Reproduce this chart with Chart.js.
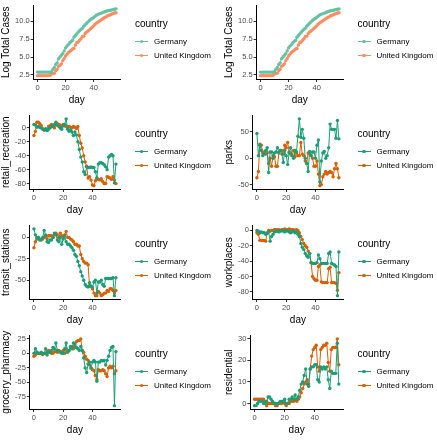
<!DOCTYPE html>
<html>
<head>
<meta charset="utf-8">
<script src="https://cdn.jsdelivr.net/npm/chart.js@4/dist/chart.umd.min.js"></script>
<style>
  html, body { margin: 0; padding: 0; background: #fff; }
  #grid { position: relative; width: 437px; height: 440px; overflow: hidden; }
  .panel { position: absolute; width: 218px; height: 110px; }
  .legend { position: absolute; left: 135px; top: 0; font-family: 'Liberation Sans', Arial, sans-serif; color: #000; }
  .legend .ttl { position: absolute; left: 0; top: 18px; font-size: 10px; line-height: 12px; white-space: nowrap; }
  .legend .item { position: absolute; left: 0; height: 10px; white-space: nowrap; }
  .legend .key { position: absolute; left: 0; top: 4.5px; width: 13px; height: 1px; }
  .legend .dot { position: absolute; left: 4.7px; top: 3.2px; width: 3.6px; height: 3.6px; border-radius: 50%; }
  .legend .lbl { position: absolute; left: 19px; top: 0; font-size: 8px; line-height: 10px; }
</style>
</head>
<body>
<div id="grid"></div>
<script>
/* ── Data ─────────────────────────────────────────────── */
const countries = ['Germany', 'United Kingdom'];
const days = [
  0, 1, 2, 3, 4, 5, 6, 7, 8, 9,
  10, 11, 12, 13, 14, 15, 16, 17, 18, 19,
  20, 21, 22, 23, 24, 25, 26, 27, 28, 29,
  30, 31, 32, 33, 34, 35, 36, 37, 38, 39,
  40, 41, 42, 43, 44, 45, 46, 47, 48, 49,
  50, 51, 52, 53, 54, 55, 56,
];
const xTicks = [0, 20, 40];

const logCasesDE = [
  2.9, 2.9, 2.9, 2.9, 2.9, 2.9, 2.9, 2.9, 2.9, 2.9,
  2.95, 3.3, 3.55, 3.97, 4.19, 4.76, 5.01, 5.24, 5.48, 5.86,
  6.28, 6.53, 6.74, 7.01, 7.17, 7.36, 7.77, 8.03, 8.24, 8.48,
  8.7, 8.88, 9.01, 9.31, 9.54, 9.72, 9.92, 10.12, 10.28, 10.4,
  10.53, 10.69, 10.84, 10.96, 11.04, 11.11, 11.18, 11.26, 11.35, 11.42,
  11.47, 11.51, 11.55, 11.59, 11.64, 11.68, 11.74,
];
const logCasesUK = [
  2.4, 2.4, 2.4, 2.4, 2.4, 2.4, 2.4, 2.4, 2.4, 2.45,
  2.7, 2.7, 2.75, 3.1, 3.3, 3.7, 3.85, 4.05, 4.5, 4.8,
  5.15, 5.4, 5.65, 5.8, 5.95, 6.12, 6.2, 6.68, 7.04, 7.1,
  7.34, 7.58, 7.87, 7.92, 8.29, 8.52, 8.65, 8.8, 9.0, 9.16,
  9.36, 9.58, 9.75, 9.88, 10.0, 10.13, 10.29, 10.43, 10.55, 10.64,
  10.77, 10.85, 10.92, 11.01, 11.08, 11.15, 11.2,
];
const logCasesTicks = [2.5, 5.0, 7.5, 10.0];

const retailDE = [
  5, 4, 1, 2, 1, 0, -1, -3, -2, -4,
  -2, 0, 2, 3, 5, 8, 4, 2, 0, -2,
  3, 5, 13, -2, -5, -3, -6, -11, -6, -10,
  -20, -31, -42, -49, -63, -67, -56, -57, -57, -56,
  -57, -57, -63, -72, -52, -50, -50, -51, -53, -56,
  -60, -42, -40, -38, -40, -79, -52,
];
const retailUK = [
  -11, -5, 8, 8, 6, 3, -2, -3, -1, -3,
  2, 3, 5, 2, 0, 4, 6, 5, 4, 2,
  5, 3, 2, 1, 2, 1, 0, 2, 1, -1,
  2, -11, -22, -29, -40, -49, -55, -72, -70, -75,
  -82, -83, -76, -72, -74, -75, -73, -77, -80, -80,
  -70, -71, -72, -74, -70, -75, -80,
];
const retailTicks = [-80, -60, -40, -20, 0];

const parksDE = [
  47, 5, 25, 15, 5, 8, 15, 20, -27, 12,
  12, 0, 10, 12, 20, 12, 15, 8, -8, 15,
  5, -12, 10, 20, 5, 0, 15, 12, 42, 75,
  40, 55, 38, 0, -10, -25, 13, 5, 12, 12,
  0, 25, 35, -45, -5, 10, 13, 0, 5, 20,
  65, 55, 55, 55, 38, 72, 37,
];
const parksUK = [
  -37, -25, 27, 25, 10, 12, 8, 10, -10, 0,
  -15, 5, 3, -15, -15, 10, 15, 15, 8, 25,
  20, 30, 12, 8, 5, 15, 3, 10, 5, 5,
  30, 8, 5, -5, -10, 10, 8, 5, 0, -15,
  -15, -5, -30, -52, -50, -35, -30, -25, -30, -27,
  -25, -27, -35, -20, -10, -20, -37,
];
const parksTicks = [-50, 0, 50];

const transitDE = [
  10, 3, -2, 0, -3, -2, 0, 8, 3, -5,
  -6, -3, -3, 0, 5, 3, -3, -5, 0, -8,
  -2, 2, -5, -8, -8, -10, -12, -15, -20, -22,
  -28, -33, -40, -45, -50, -55, -57, -58, -53, -57,
  -58, -52, -50, -65, -52, -52, -50, -55, -57, -48,
  -48, -48, -48, -48, -47, -68, -47,
];
const transitUK = [
  -12, -5, 0, 0, -2, -3, -2, 0, 2, -2,
  2, 2, 2, 0, 3, 5, 3, 0, 5, 2,
  0, 3, 7, 0, 0, -2, -3, -5, -8, -8,
  -10, -10, -20, -25, -28, -30, -30, -32, -57, -57,
  -60, -65, -68, -68, -63, -65, -68, -67, -65, -65,
  -62, -63, -60, -60, -62, -65, -62,
];
const transitTicks = [-50, -25, 0];

const workDE = [
  0, -1, -3, -2, -3, -3, -5, -4, -2, -14,
  -8, -5, -2, -1, -1, -2, -1, 0, -1, -2,
  -1, 0, -2, -3, -2, -1, -3, -2, -5, -8,
  -17, -22, -25, -30, -33, -35, -30, -42, -43, -43,
  -43, -42, -32, -37, -43, -43, -43, -43, -43, -30,
  -28, -43, -44, -45, -47, -85, -28,
];
const workUK = [
  -3, -5, -13, -13, -13, -13, -14, -3, 0, -1,
  0, 0, 1, 1, 1, 1, 0, 1, 1, 2,
  1, 1, 2, 1, 1, 1, 0, 1, 0, -3,
  -8, -12, -17, -20, -22, -27, -30, -42, -60, -63,
  -65, -65, -47, -45, -67, -68, -68, -68, -68, -50,
  -48, -68, -68, -68, -69, -78, -55,
];
const workTicks = [-80, -60, -40, -20, 0];

const groceryDE = [
  0, 8, 2, 0, 0, 2, 0, 0, 8, -3,
  2, 2, 5, 10, 8, 18, 5, 3, 2, 0,
  0, 8, 18, 2, 5, 12, 8, 18, 15, 10,
  8, 5, 12, 5, -8, -25, -33, -18, -15, -25,
  -15, -12, -15, -48, -15, -15, -12, -13, -12, -20,
  -12, -5, 5, 10, 12, -90, 3,
];
const groceryUK = [
  -5, -3, 2, 0, 0, 0, -2, 0, 0, 3,
  5, 2, 0, 0, 3, 3, 2, 5, 3, 2,
  5, 0, 8, 3, 5, 10, 12, 8, 12, 20,
  22, 22, 25, 5, 2, -5, -10, -12, -20, -25,
  -28, -30, -38, -45, -28, -30, -30, -28, -30, -35,
  -40, -25, -22, -25, -22, -35, -30,
];
const groceryTicks = [-75, -50, -25, 0, 25];

const residentialDE = [
  -1, -1, 0, 1, 1, 1, 0, 0, 1, 3,
  3, 2, 1, 0, 0, 0, 0, 1, 1, 1,
  2, 0, 0, 2, 2, 3, 2, 4, 2, 3,
  6, 9, 10, 13, 16, 9, 8, 16, 17, 17,
  18, 18, 11, 10, 17, 16, 17, 16, 17, 11,
  7, 15, 14, 14, 14, 28, 9,
];
const residentialUK = [
  2, 2, 2, 2, 2, 2, 2, 1, -1, 0,
  0, 0, 0, 0, -1, -1, 0, 0, 0, 1,
  0, -1, 0, 0, 1, 1, 1, 2, 1, 2,
  3, 5, 7, 9, 10, 11, 9, 16, 22, 25,
  26, 27, 17, 15, 25, 26, 27, 27, 28, 19,
  15, 25, 26, 26, 26, 30, 18,
];
const residentialTicks = [0, 10, 20, 30];

/* ── Styling ──────────────────────────────────────────── */
const SET2 = ['#66C2A5', '#FC8D62'];
const DARK2 = ['#1B9E77', '#D95F02'];
const FONT = "'Liberation Sans', Arial, sans-serif";
const TICK_FONT = { family: FONT, size: 7.5 };
const TITLE_FONT = { family: FONT, size: 10 };

const panels = [
  { title: 'Log Total Cases', de: logCasesDE, uk: logCasesUK, ticks: logCasesTicks, colors: SET2, digits: 1 },
  { title: 'Log Total Cases', de: logCasesDE, uk: logCasesUK, ticks: logCasesTicks, colors: SET2, digits: 1 },
  { title: 'retail_recreation', de: retailDE, uk: retailUK, ticks: retailTicks, colors: DARK2, digits: 0 },
  { title: 'parks', de: parksDE, uk: parksUK, ticks: parksTicks, colors: DARK2, digits: 0 },
  { title: 'transit_stations', de: transitDE, uk: transitUK, ticks: transitTicks, colors: DARK2, digits: 0 },
  { title: 'workplaces', de: workDE, uk: workUK, ticks: workTicks, colors: DARK2, digits: 0 },
  { title: 'grocery_pharmacy', de: groceryDE, uk: groceryUK, ticks: groceryTicks, colors: DARK2, digits: 0 },
  { title: 'residential', de: residentialDE, uk: residentialUK, ticks: residentialTicks, colors: DARK2, digits: 0 },
];

// ggplot-style 5% expansion of the data range
function expand(...series) {
  const all = series.flat();
  const lo = Math.min(...all), hi = Math.max(...all);
  const e = (hi - lo) * 0.05;
  return [lo - e, hi + e];
}

// html legend: "country" title + line/dot keys
function addLegend(box, colors) {
  const lg = document.createElement('div');
  lg.className = 'legend';
  const t = document.createElement('div');
  t.className = 'ttl';
  t.textContent = 'country';
  lg.appendChild(t);
  countries.forEach((name, k) => {
    const it = document.createElement('div');
    it.className = 'item';
    it.style.top = (36.7 + k * 14) + 'px';
    it.innerHTML = `<div class="key" style="background:${colors[k]}"></div>` +
      `<div class="dot" style="background:${colors[k]}"></div><div class="lbl">${name}</div>`;
    lg.appendChild(it);
  });
  box.appendChild(lg);
}

const grid = document.getElementById('grid');
const [xMin, xMax] = expand(days);

panels.forEach((p, i) => {
  const col = i % 2, row = Math.floor(i / 2);
  const box = document.createElement('div');
  box.className = 'panel';
  box.style.left = (col ? 222.5 : 0) + 'px';
  box.style.top = (row * 110) + 'px';
  const canvas = document.createElement('canvas');
  box.appendChild(canvas);
  grid.appendChild(box);
  addLegend(box, p.colors);

  const [yMin, yMax] = expand(p.de, p.uk);
  const series = [p.de, p.uk];

  new Chart(canvas, {
    type: 'line',
    data: {
      datasets: countries.map((name, k) => ({
        label: name,
        data: series[k].map((v, j) => ({ x: days[j], y: v })),
        borderColor: p.colors[k],
        backgroundColor: p.colors[k],
        borderWidth: 1,
        pointRadius: 1.7,
        pointBorderWidth: 0,
        pointBackgroundColor: p.colors[k],
        tension: 0,
      })),
    },
    options: {
      responsive: true, maintainAspectRatio: false,
      animation: false,
      layout: { padding: { top: 2.5, right: 98, bottom: 4, left: 0 } },
      plugins: {
        tooltip: { enabled: false },
        legend: { display: false },
      },
      scales: {
        x: {
          type: 'linear', min: xMin, max: xMax,
          afterBuildTicks: s => { s.ticks = xTicks.map(v => ({ value: v })); },
          ticks: { color: '#4D4D4D', font: TICK_FONT, padding: 1.5, maxRotation: 0 },
          grid: { drawOnChartArea: false, drawTicks: true, tickLength: 3, color: '#333' },
          border: { display: true, color: '#000', width: 1 },
          title: { display: true, text: 'day', color: '#000', font: TITLE_FONT, padding: { top: 0, bottom: 0 } },
        },
        y: {
          type: 'linear', min: yMin, max: yMax,
          afterBuildTicks: s => { s.ticks = p.ticks.map(v => ({ value: v })); },
          ticks: { color: '#4D4D4D', font: TICK_FONT, padding: 1, callback: v => v.toFixed(p.digits) },
          grid: { drawOnChartArea: false, drawTicks: true, tickLength: 3, color: '#333' },
          border: { display: true, color: '#000', width: 1 },
          title: { display: true, text: p.title, color: '#000', font: TITLE_FONT, padding: { top: 0, bottom: 2 } },
        },
      },
    },
  });
});
</script>
</body>
</html>
